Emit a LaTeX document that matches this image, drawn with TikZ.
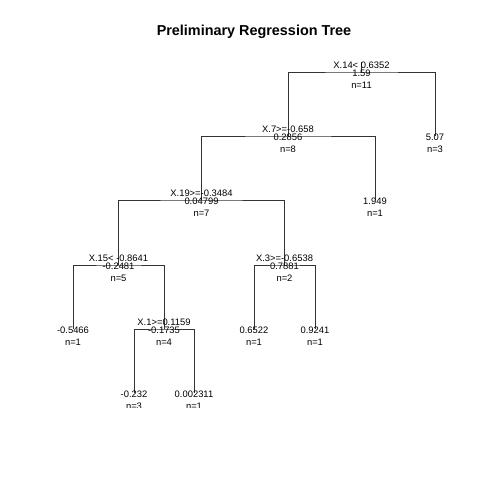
\documentclass[tikz,border=0pt]{standalone}
\usepackage{fontspec}
\setmainfont{Liberation Sans}
\begin{document}
\begin{tikzpicture}[
    x=1pt, y=-1pt,
    every node/.style={font=\fontsize{9.4}{10}\selectfont, inner sep=0pt, anchor=base},
    branch/.style={draw=black!80, line width=0.7pt},
    splitlab/.style={yshift=3.5pt},
    valuelab/.style={yshift=-4.5pt},
    countlab/.style={yshift=-16.3pt}
]
\useasboundingbox (0,0) rectangle (480,480);

% Titel
\node[font=\bfseries\fontsize{14.4}{16}\selectfont] (title) at (254,35.2) {Preliminary Regression Tree};

\begin{scope}
\clip (0,0) rectangle (480,407.5);

% Knotenpunkte des Baums
\coordinate (N0) at (361.5,62);
\coordinate (N1) at (361.5,72);
\coordinate (N2) at (288,136);
\coordinate (N3) at (435,136);
\coordinate (N4) at (201.5,200);
\coordinate (N5) at (375,200);
\coordinate (N6) at (118.5,265);
\coordinate (N7) at (284.5,265);
\coordinate (N8) at (73,329);
\coordinate (N9) at (164,329);
\coordinate (N10) at (254,329);
\coordinate (N11) at (315,329);
\coordinate (N12) at (134,393);
\coordinate (N13) at (194,393);

% Zweige
\draw[branch] (N0) -- (N1);
\draw[branch] (N2) |- (N1) -| (N3);
\draw[branch] (N4) |- (N2) -| (N5);
\draw[branch] (N6) |- (N4) -| (N7);
\draw[branch] (N8) |- (N6) -| (N9);
\draw[branch] (N10) |- (N7) -| (N11);
\draw[branch] (N12) |- (N9) -| (N13);

% Beschriftungen der inneren Knoten
\node[splitlab] (N1s) at (N1) {X.14< 0.6352};
\node[valuelab] (N1v) at (N1) {1.59};
\node[countlab] (N1n) at (N1) {n=11};
\node[splitlab] (N2s) at (N2) {X.7>=-0.658};
\node[valuelab] (N2v) at (N2) {0.2856};
\node[countlab] (N2n) at (N2) {n=8};
\node[splitlab] (N4s) at (N4) {X.19>=-0.3484};
\node[valuelab] (N4v) at (N4) {0.04799};
\node[countlab] (N4n) at (N4) {n=7};
\node[splitlab] (N6s) at (N6) {X.15< -0.8641};
\node[valuelab] (N6v) at (N6) {-0.2481};
\node[countlab] (N6n) at (N6) {n=5};
\node[splitlab] (N7s) at (N7) {X.3>=-0.6538};
\node[valuelab] (N7v) at (N7) {0.7881};
\node[countlab] (N7n) at (N7) {n=2};
\node[splitlab] (N9s) at (N9) {X.1>=0.1159};
\node[valuelab] (N9v) at (N9) {-0.1735};
\node[countlab] (N9n) at (N9) {n=4};

% Blaetter
\node[valuelab] (N3v) at (N3) {5.07};
\node[countlab] (N3n) at (N3) {n=3};
\node[valuelab] (N5v) at (N5) {1.949};
\node[countlab] (N5n) at (N5) {n=1};
\node[valuelab] (N8v) at (N8) {-0.5466};
\node[countlab] (N8n) at (N8) {n=1};
\node[valuelab] (N10v) at (N10) {0.6522};
\node[countlab] (N10n) at (N10) {n=1};
\node[valuelab] (N11v) at (N11) {0.9241};
\node[countlab] (N11n) at (N11) {n=1};
\node[valuelab] (N12v) at (N12) {-0.232};
\node[countlab] (N12n) at (N12) {n=3};
\node[valuelab] (N13v) at (N13) {0.002311};
\node[countlab] (N13n) at (N13) {n=1};
\end{scope}
\end{tikzpicture}
\end{document}
